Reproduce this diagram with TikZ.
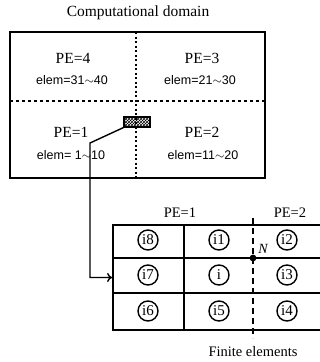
\documentclass[tikz,border=0pt]{standalone}
\usepackage{fontspec}
\setmainfont{Liberation Serif}
\newfontfamily\gothic{Liberation Sans}
\usetikzlibrary{arrows.meta,patterns,positioning}
\tikzset{
  lbl/.style={inner sep=0pt,font=\fontsize{15.5}{15.5}\selectfont},
  elem/.style={inner sep=0pt,font=\gothic\fontsize{12.5}{12.5}\selectfont},
  elnum/.style={circle,draw,line width=1.4pt,minimum size=20pt,inner sep=0pt,font=\fontsize{15}{15}\selectfont},
  frame/.style={draw,line width=1.8pt},
  ar/.style={-{To[length=5pt,width=9pt]},line width=1.4pt}
}
\begin{document}
\begin{tikzpicture}[x=1pt,y=-1pt]
\useasboundingbox (0,0) rectangle (320,362);
\clip (0,0) rectangle (320,362);
\node[lbl] (ttl) at (138,13) {Computational domain};
% computational domain, four PEs
\draw[frame] (10,32) rectangle (265,178);
\draw[line width=1.5pt,dash pattern=on 2pt off 2.5pt] (136,32) -- (136,178);
\draw[line width=1.5pt,dash pattern=on 3pt off 3pt] (10,101) -- (265,101);
\node[lbl] (pe4) at (73,58) {PE=4};
\node[elem] (el4) at (72,80) {elem=31$\sim$40};
\node[lbl] (pe3) at (202,58) {PE=3};
\node[elem] (el3) at (200,80) {elem=21$\sim$30};
\node[lbl] (pe1) at (71,132) {PE=1};
\node[elem] (el1) at (71,155) {elem=\ 1$\sim$10};
\node[lbl] (pe2) at (202,132) {PE=2};
\node[elem] (el2) at (203,155) {elem=11$\sim$20};
\node[draw,line width=1.2pt,pattern=crosshatch,minimum width=26pt,minimum height=10pt,inner sep=0pt] (hb) at (137,122) {};
% finite elements
\node[frame,minimum width=209pt,minimum height=105pt,inner sep=0pt] (mesh) at (217.5,277.5) {};
\draw[line width=1.8pt] (113,258) -- (322,258) (113,293) -- (322,293) (184,225) -- (184,330);
\draw[line width=2.2pt,dash pattern=on 6pt off 4pt] (253,218) -- (253,338);
\foreach \n/\x/\y in {i8/148/240, i1/219/240, i2/287/240, i7/148/275, i/219/275, i3/287/275, i6/148/311, i5/219/311, i4/287/311}
  \node[elnum] (\n) at (\x,\y) {\n};
\fill (253,258) circle (3.4pt);
\node[inner sep=0pt,font=\itshape\fontsize{14}{14}\selectfont] (nd) at (263,249) {N};
\node[lbl,font=\fontsize{14.5}{14.5}\selectfont] (mpe1) at (180,213) {PE=1};
\node[lbl,font=\fontsize{14.5}{14.5}\selectfont] (mpe2) at (290,213) {PE=2};
\node[lbl,font=\fontsize{14.5}{14.5}\selectfont] (fe) at (253,352) {Finite elements};
% connector
\coordinate (bend) at (90,143);
\draw[ar] (hb.south west) -- (bend) -- (bend |- mesh.west) -- (mesh.west);
\end{tikzpicture}
\end{document}
